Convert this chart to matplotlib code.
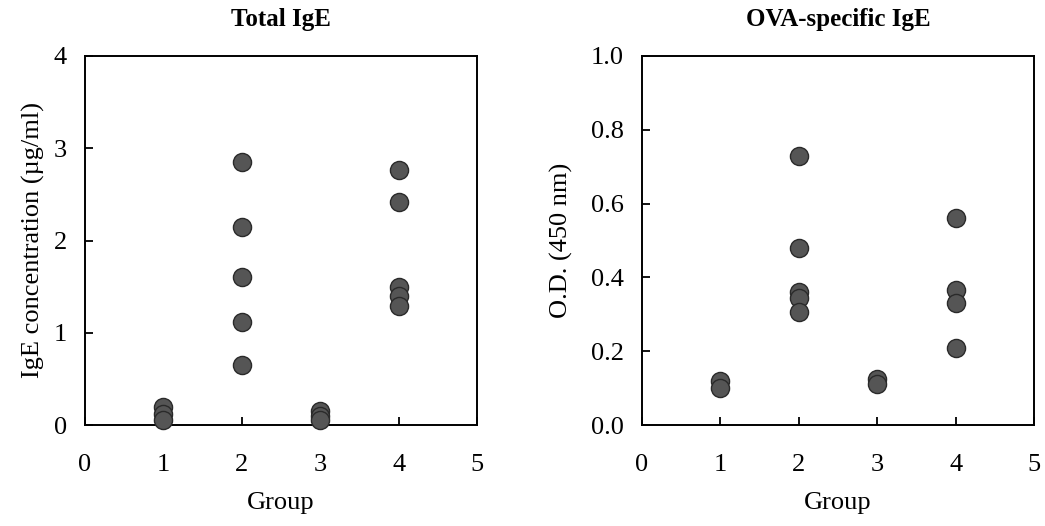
import matplotlib
matplotlib.use("Agg")
import matplotlib.pyplot as plt

# Total IgE (ug/ml)
g1_total = [0.20, 0.12, 0.05]
g2_total = [2.85, 2.15, 1.60, 1.12, 0.65]
g3_total = [0.15, 0.10, 0.05]
g4_total = [2.76, 2.42, 1.50, 1.40, 1.29]

# OVA-specific IgE (O.D. 450 nm)
g1_ova = [0.12, 0.10]
g2_ova = [0.73, 0.48, 0.36, 0.345, 0.305]
g3_ova = [0.125, 0.11]
g4_ova = [0.56, 0.366, 0.33, 0.21]

groups = [1, 2, 3, 4]
titles = ["Total IgE", "OVA-specific IgE"]
ylabels = ["IgE concentration (\u00b5g/ml)", "O.D. (450 nm)"]
xticks = [0, 1, 2, 3, 4, 5]
yticks_total = [0, 1, 2, 3, 4]
yticks_ova = [0.0, 0.2, 0.4, 0.6, 0.8, 1.0]

plt.rcParams['font.family'] = ['Liberation Serif', 'DejaVu Serif']

W, H = 1045, 526
fig = plt.figure(figsize=(W/100, H/100), dpi=100)
ax1 = fig.add_axes([85/W, 1-425/H, 392/W, 369/H])
ax2 = fig.add_axes([642/W, 1-425/H, 392/W, 369/H])

def draw(ax, data, yticks, ylim, fmt, title, ylabel, ylab_x):
    for g, vals in zip(groups, data):
        ax.scatter([g]*len(vals), vals, s=170, facecolor='#555555',
                   edgecolor='#2a2a2a', linewidth=1.0, zorder=3, clip_on=False)
    ax.set_xlim(0, 5)
    ax.set_ylim(*ylim)
    ax.set_xticks(xticks)
    ax.set_yticks(yticks)
    ax.set_yticklabels([fmt.format(v) for v in yticks])
    ax.tick_params(direction='in', length=6, width=1.3, labelsize=19)
    ax.tick_params(axis='x', pad=21)
    ax.tick_params(axis='y', pad=13)
    for s in ax.spines.values():
        s.set_linewidth(1.4)
    ax.text(0.5, 1 + 36/369, title, transform=ax.transAxes, ha='center',
            va='center', fontsize=18, fontweight='bold')
    ax.set_ylabel(ylabel, fontsize=19)
    ax.yaxis.set_label_coords(ylab_x, 0.5)
    ax.set_xlabel("Group", fontsize=19)
    ax.xaxis.set_label_coords(0.5, -(503-425)/369)
    ax.xaxis.label.set_va('center')
    ax.yaxis.label.set_va('center')

draw(ax1, [g1_total, g2_total, g3_total, g4_total], yticks_total, (0, 4), "{:d}",
     titles[0], ylabels[0], (33-85)/392)
draw(ax2, [g1_ova, g2_ova, g3_ova, g4_ova], yticks_ova, (0, 1.0), "{:.1f}",
     titles[1], ylabels[1], (561-642)/392)

fig.savefig("out.png", dpi=100)
